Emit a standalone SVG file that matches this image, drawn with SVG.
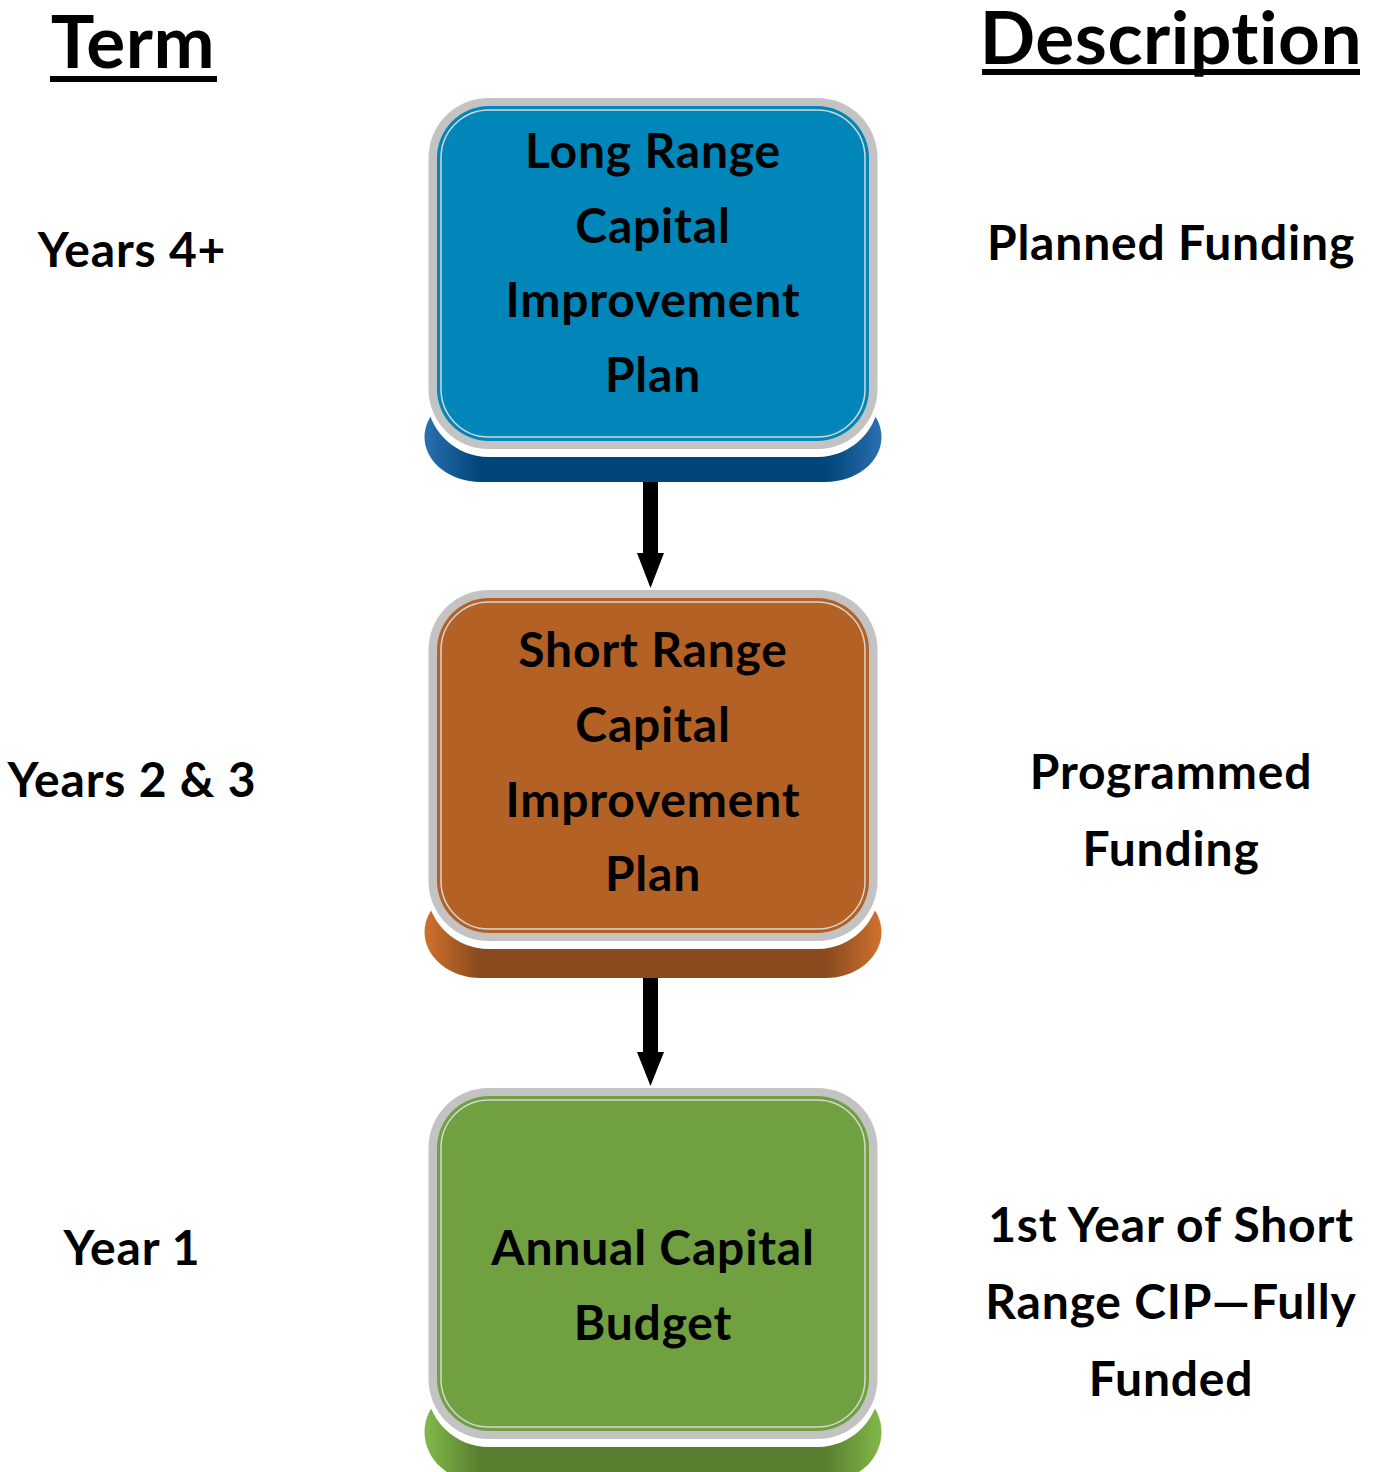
<svg xmlns="http://www.w3.org/2000/svg" width="1377" height="1472" viewBox="0 0 1377 1472">
<defs>
<linearGradient id="gBlue" x1="0" y1="0" x2="1" y2="0">
<stop offset="0" stop-color="#2a6fb0"/><stop offset="0.12" stop-color="#00467a"/><stop offset="0.88" stop-color="#00467a"/><stop offset="1" stop-color="#2a6fb0"/>
</linearGradient>
<linearGradient id="gOrange" x1="0" y1="0" x2="1" y2="0">
<stop offset="0" stop-color="#d0712e"/><stop offset="0.12" stop-color="#8a4a1e"/><stop offset="0.88" stop-color="#8a4a1e"/><stop offset="1" stop-color="#d0712e"/>
</linearGradient>
<linearGradient id="gGreen" x1="0" y1="0" x2="1" y2="0">
<stop offset="0" stop-color="#82b848"/><stop offset="0.12" stop-color="#5a7f30"/><stop offset="0.88" stop-color="#5a7f30"/><stop offset="1" stop-color="#82b848"/>
</linearGradient>
</defs>
<style>
text{font-family:Lato,"Liberation Sans",sans-serif;font-weight:bold;fill:#000;text-anchor:middle}
.lbl{font-size:48px;letter-spacing:0.8px}
.hdr{font-size:73px;letter-spacing:0.5px}
.white{fill:#fff}
.grey{fill:#c3c3c3}
.inner{fill:none;stroke:#d6d6d6;stroke-width:1.5}
.arrow{fill:#000}
</style>
<rect width="1377" height="1472" fill="#fff"/>

<g id="header-term">
<text class="hdr" x="133" y="68">Term</text>
<rect x="50" y="76" width="167" height="6" fill="#000"/>
</g>
<g id="header-description">
<text class="hdr" x="1171" y="64">Description</text>
<rect x="982" y="69" width="378" height="6" fill="#000"/>
</g>

<g id="term-1"><text class="lbl" x="132" y="267">Years 4+</text></g>
<g id="term-2"><text class="lbl" x="132" y="797">Years 2 &amp; 3</text></g>
<g id="term-3"><text class="lbl" x="132" y="1265">Year 1</text></g>

<g id="desc-1"><text class="lbl" x="1171" y="260">Planned Funding</text></g>
<g id="desc-2"><text class="lbl" x="1171" y="789">Programmed</text><text class="lbl" x="1171" y="866">Funding</text></g>
<g id="desc-3"><text class="lbl" x="1171" y="1242">1st Year of Short</text><text class="lbl" x="1171" y="1319">Range CIP—Fully</text><text class="lbl" x="1171" y="1396">Funded</text></g>

<g id="node-long-range">
<rect x="424.5" y="392" width="457" height="90" rx="56" fill="url(#gBlue)"/>
<rect class="white" x="426.5" y="95" width="453" height="362" rx="62"/>
<rect class="grey" x="428.5" y="98" width="449" height="351" rx="60"/>
<rect x="437" y="106" width="432" height="335" rx="52" fill="#0086b8"/>
<rect class="inner" x="441" y="110" width="424" height="327" rx="48"/>
<text class="lbl" x="653" y="168">Long Range</text>
<text class="lbl" x="653" y="243">Capital</text>
<text class="lbl" x="653" y="317">Improvement</text>
<text class="lbl" x="653" y="392">Plan</text>
</g>

<g id="node-short-range">
<rect x="424.5" y="886" width="457" height="92" rx="56" fill="url(#gOrange)"/>
<rect class="white" x="426.5" y="587" width="453" height="362" rx="62"/>
<rect class="grey" x="428.5" y="590" width="449" height="351" rx="60"/>
<rect x="437" y="598" width="432" height="335" rx="52" fill="#b46126"/>
<rect class="inner" x="441" y="602" width="424" height="327" rx="48"/>
<text class="lbl" x="653" y="667">Short Range</text>
<text class="lbl" x="653" y="742">Capital</text>
<text class="lbl" x="653" y="817">Improvement</text>
<text class="lbl" x="653" y="891">Plan</text>
</g>

<g id="node-annual">
<rect x="424.5" y="1382" width="457" height="100" rx="56" fill="url(#gGreen)"/>
<rect class="white" x="426.5" y="1085" width="453" height="362" rx="62"/>
<rect class="grey" x="428.5" y="1088" width="449" height="351" rx="60"/>
<rect x="437" y="1096" width="432" height="335" rx="52" fill="#70a040"/>
<rect class="inner" x="441" y="1100" width="424" height="327" rx="48"/>
<text class="lbl" x="653" y="1265">Annual Capital</text>
<text class="lbl" x="653" y="1340">Budget</text>
</g>

<g id="connectors">
<polygon class="arrow" points="643,482 658,482 658,553 664,553 650.5,588 637,553 643,553"/>
<polygon class="arrow" points="643,978 658,978 658,1052 664,1052 650.5,1086 637,1052 643,1052"/>
</g>
</svg>
